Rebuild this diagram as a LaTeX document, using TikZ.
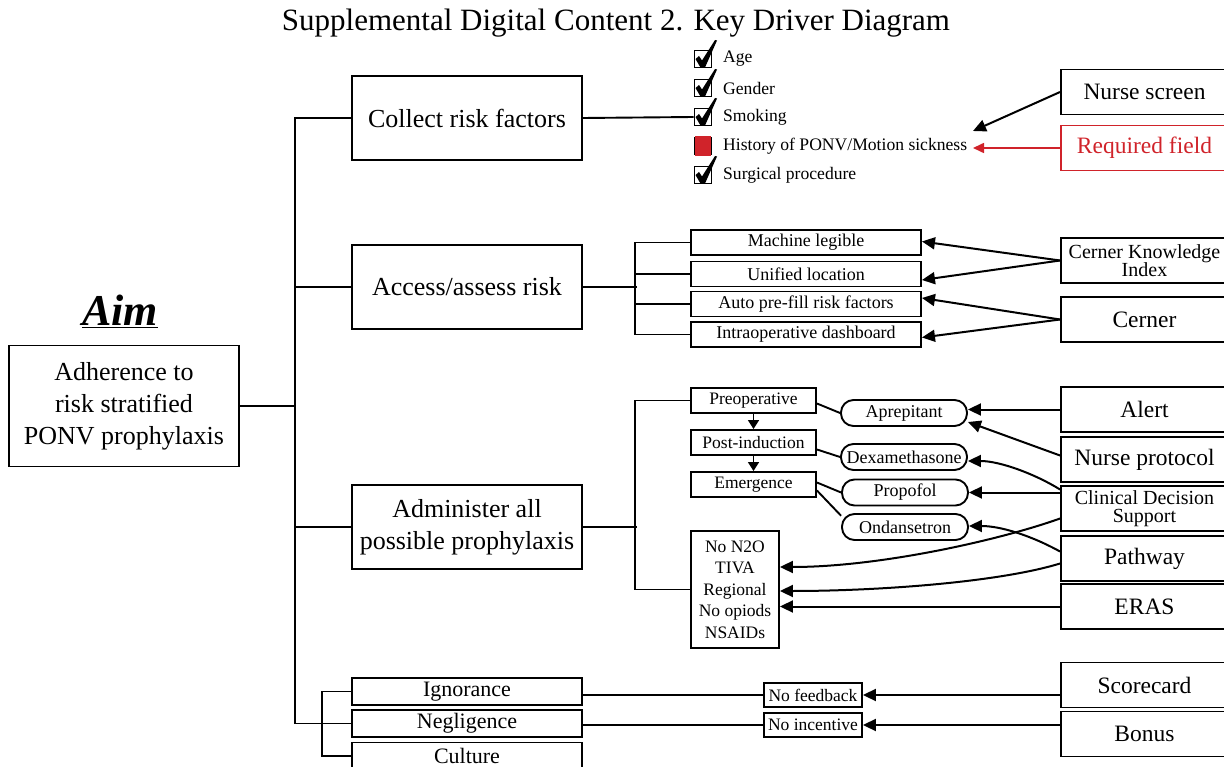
\documentclass[tikz,border=0pt]{standalone}
\usepackage{fontspec}
\setmainfont{Liberation Serif}
\usepackage{tikz}
\usetikzlibrary{arrows.meta}

\definecolor{reqred}{RGB}{208,35,42}

\tikzset{
    box/.style={draw, line width=1.9pt, inner sep=0pt, align=center},
    bigbox/.style={box, minimum width=230pt, minimum height=84pt, font=\fontsize{26}{32}\selectfont},
    subbox/.style={box, minimum width=230pt, minimum height=25pt, font=\fontsize{18}{20}\selectfont},
    phase/.style={box, minimum width=125pt, minimum height=25pt, font=\fontsize{17.5}{20}\selectfont},
    drug/.style={box, rounded corners=12.5pt, minimum width=126pt, minimum height=26pt, font=\fontsize{18}{20}\selectfont},
    tool/.style={box, minimum width=167pt, minimum height=45pt, font=\fontsize{23.5}{26}\selectfont},
    twoline/.style={tool, font=\fontsize{20}{18.5}\selectfont},
    cause/.style={box, minimum width=230pt, minimum height=27pt, font=\fontsize{22}{24}\selectfont},
    gapbox/.style={box, minimum width=98pt, minimum height=24pt, font=\fontsize{17.5}{20}\selectfont},
    chkbox/.style={draw, line width=1.8pt, inner sep=0pt, minimum size=17pt},
    item/.style={anchor=west, inner sep=0pt, font=\fontsize{17.6}{20}\selectfont},
    link/.style={line width=1.9pt},
    arr/.style={line width=2pt, -{Triangle[length=13pt,width=12pt]}}
}

\begin{document}
\begin{tikzpicture}[x=1pt, y=-1pt]
    \useasboundingbox (0,0) rectangle (1224,767);

    \node[anchor=base, inner sep=0pt, font=\fontsize{31}{34}\selectfont] (title) at (616,31) {Supplemental Digital Content 2. Key Driver Diagram};

    % aim
    \node[anchor=base, inner sep=0pt, font=\fontsize{44}{48}\selectfont\bfseries\itshape] (aimlbl) at (120,326) {\underline{Aim}};
    \node[box, minimum width=230pt, minimum height=121pt, font=\fontsize{26}{32}\selectfont] (aim) at (124,406) {Adherence to\\risk stratified\\PONV prophylaxis};

    % primary drivers
    \node[bigbox] (collect) at (467,118) {Collect risk factors};
    \node[bigbox] (access) at (467,287) {Access/assess risk};
    \node[bigbox] (admin) at (467,527) {Administer all\\possible prophylaxis};
    \node[cause] (ign) at (467,691.5) {Ignorance};
    \node[cause] (neg) at (467,723.5) {Negligence};
    \node[cause] (cult) at (467,756) {Culture};

    \coordinate (tk1) at (295,118);
    \coordinate (tk2) at (295,723.5);
    \draw[link] (collect.west) -- (tk1) -- (tk2) -- (neg.west);
    \draw[link] (access.west) -- (access.west -| tk1);
    \draw[link] (admin.west) -- (admin.west -| tk1);
    \draw[link] (aim.east) -- (aim.east -| tk1);
    \draw[link] (ign.west) -- ++(-29,0) |- (cult.west);

    % risk factor checklist
    \foreach \i/\y/\txt in {1/59/Age, 2/88/Gender, 3/117/Smoking, 4/146/{History of PONV/Motion sickness}, 5/175/Surgical procedure}{
        \node[chkbox] (chk\i) at (703,\y) {};
        \node[item] (lbl\i) at (723,\y) {\txt};
    }
    \foreach \i/\y in {1/59, 2/88, 3/117, 5/175}
        \fill[shift={(703,\y)}] (-7.5,0) -- (-4,-3) -- (-1,1.5) -- (12,-19) -- (14,-18.5) -- (2,8.5) -- (-2.5,8.5) -- cycle;
    \fill[reqred] ([shift={(1,-1)}]chk4.north west) rectangle ([shift={(-1,1)}]chk4.south east);

    \draw[link] (collect.east) -- (chk3.west);

    \node[tool] (nscreen) at (1144.5,92) {Nurse screen};
    \node[tool, draw=reqred, text=reqred, line width=1.5pt] (reqf) at (1144.5,148) {Required field};
    \coordinate (histtip) at (973,131);
    \draw[arr] (nscreen.west) -- (histtip);
    \draw[arr, reqred, line width=1.6pt, -{Triangle[length=11pt,width=10pt]}] (reqf.west) -- (reqf.west -| 973,0);

    % access / assess
    \node[subbox] (machine) at (806,242.5) {Machine legible};
    \node[subbox] (unified) at (806,274) {Unified location};
    \node[subbox] (autofill) at (806,304) {Auto pre-fill risk factors};
    \node[subbox] (intraop) at (806,334.5) {Intraoperative dashboard};

    \draw[link] (access.east) -- ++(54,0);
    \draw[link] (machine.west) -- ++(-55,0) |- (intraop.west);
    \draw[link] (unified.west) -- ++(-55,0);
    \draw[link] (autofill.west) -- ++(-55,0);

    \node[twoline] (cki) at (1144.5,260.5) {Cerner Knowledge\\Index};
    \node[tool] (cerner) at (1144.5,319.5) {Cerner};
    \draw[arr] (cki.west) -- ([yshift=1pt]machine.east);
    \draw[arr] (cki.west) -- ([yshift=-6pt]unified.east);
    \draw[arr] (cerner.west) -- ([yshift=6pt]autofill.east);
    \draw[arr] (cerner.west) -- ([yshift=-3pt]intraop.east);

    % administer
    \node[phase] (preop) at (753.5,400.5) {Preoperative};
    \node[phase] (postind) at (753.5,442.5) {Post-induction};
    \node[phase] (emerg) at (753.5,484.5) {Emergence};
    \node[box, minimum width=88pt, minimum height=117pt, font=\fontsize{17.5}{21.5}\selectfont] (non2o) at (735,589.5) {No N2O\\TIVA\\Regional\\No opiods\\NSAIDs};

    \draw[link] (admin.east) -- ++(54,0);
    \draw[link] (preop.west) -- ++(-55,0) |- (non2o.west);
    \draw[arr, line width=1.5pt, -{Triangle[length=9pt,width=11pt]}] (preop.south) -- (postind.north);
    \draw[arr, line width=1.5pt, -{Triangle[length=9pt,width=11pt]}] (postind.south) -- (emerg.north);

    \node[drug] (aprep) at (904,413) {Aprepitant};
    \node[drug] (dexa) at (904,457) {Dexamethasone};
    \node[drug] (propofol) at (905,492.5) {Propofol};
    \node[drug] (ondan) at (905,527) {Ondansetron};

    \draw[link] ([yshift=-3pt]preop.east) -- (aprep.west);
    \draw[link] ([yshift=-7pt]postind.east) -- (dexa.west);
    \draw[link] ([yshift=2pt]emerg.east) -- (propofol.west);
    \draw[link] ([yshift=-6pt]emerg.east) -- (ondan.170);

    \node[tool] (alert) at (1144.5,409.5) {Alert};
    \node[tool] (nprot) at (1144.5,459.5) {Nurse protocol};
    \node[twoline] (cds) at (1144.5,508.5) {Clinical Decision\\Support};
    \node[tool] (pathway) at (1144.5,558.5) {Pathway};
    \node[tool] (eras) at (1144.5,606.5) {ERAS};

    \draw[arr] (alert.west) -- (alert.west -| aprep.east);
    \draw[arr] ([yshift=4pt]nprot.west) -- ([yshift=-9pt]aprep.east);
    \draw[arr] ([yshift=19pt]cds.west) .. controls (1035,474) and (1000,461) .. ([yshift=-4pt]dexa.east);
    \draw[arr] (cds.west |- propofol.east) -- (propofol.east);
    \draw[arr] ([yshift=-10pt]cds.west) .. controls (1000,540) and (880,567) .. ([yshift=22.5pt]non2o.east);
    \draw[arr] ([yshift=7pt]pathway.west) .. controls (1030,535) and (1000,526) .. ([yshift=1pt]ondan.east);
    \draw[arr] ([yshift=-5pt]pathway.west) .. controls (1000,582) and (880,591) .. ([yshift=-1.5pt]non2o.east);
    \draw[arr] (eras.west) -- (eras.west -| non2o.east);

    % culture / incentives
    \node[gapbox] (nofb) at (813,695) {No feedback};
    \node[gapbox] (noinc) at (813,725) {No incentive};
    \node[tool] (score) at (1144.5,685) {Scorecard};
    \node[tool] (bonus) at (1144.5,734) {Bonus};

    \draw[link] (nofb.west -| ign.east) -- (nofb.west);
    \draw[link] (noinc.west -| neg.east) -- (noinc.west);
    \draw[arr] (nofb.east -| score.west) -- (nofb.east);
    \draw[arr] (noinc.east -| bonus.west) -- (noinc.east);
\end{tikzpicture}
\end{document}
